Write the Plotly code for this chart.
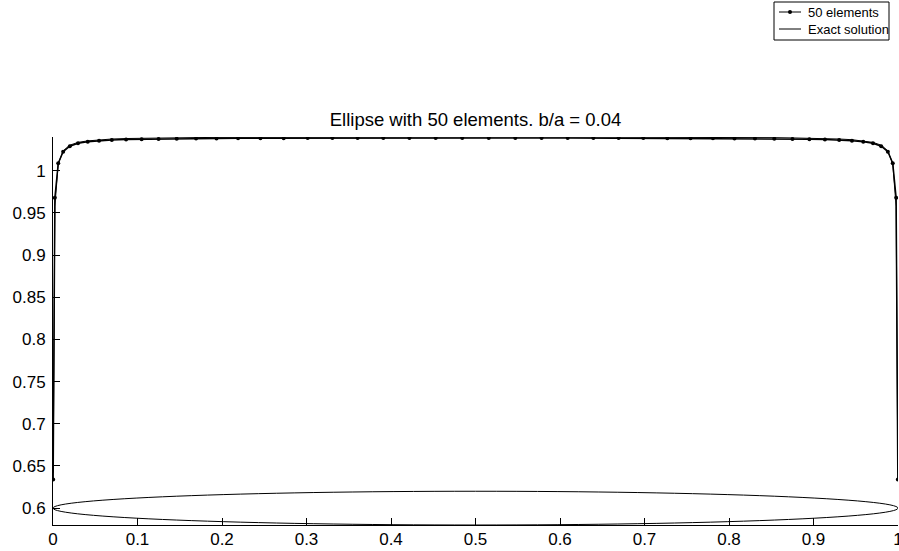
import plotly.graph_objects as go

# Collocation points on the upper half of the ellipse (x / chord length)
x_half = [0.0002, 0.0022, 0.0062, 0.0120, 0.0199, 0.0296, 0.0411, 0.0545,
          0.0696, 0.0865, 0.1049, 0.1249, 0.1464, 0.1693, 0.1935, 0.2190,
          0.2455, 0.2730, 0.3014, 0.3306, 0.3605, 0.3909, 0.4218, 0.4529,
          0.4843]
x_pts = x_half + [round(1 - v, 4) for v in reversed(x_half)]

# Surface velocity from the 50-element panel solution (left half)
u_num_half = [0.634, 0.968, 1.009, 1.0225, 1.029, 1.0325, 1.0345, 1.0356,
              1.0364, 1.0369, 1.0373, 1.0376, 1.0379, 1.0381, 1.0383, 1.0384,
              1.0385, 1.0386, 1.0387, 1.0388, 1.0388, 1.0389, 1.0389, 1.0389,
              1.0389]
u_num = u_num_half + list(reversed(u_num_half))

# Analytic surface velocity at the same points (left half)
u_exact_half = [0.642, 0.958, 1.008, 1.0236, 1.0303, 1.0336, 1.0354, 1.0368,
                1.0376, 1.0382, 1.0386, 1.0389, 1.0392, 1.0393, 1.0395, 1.0396,
                1.0397, 1.0398, 1.0398, 1.0399, 1.0399, 1.04, 1.04, 1.04, 1.04]
u_exact = u_exact_half + list(reversed(u_exact_half))

series_names = ["50 elements", "Exact solution"]

# Body outline drawn under the curves
ellipse_cx, ellipse_cy = 0.5, 0.6
ellipse_a = 0.5
ellipse_ratio = 0.04
ellipse_b = ellipse_a * ellipse_ratio

x_ticks = [0, 0.1, 0.2, 0.3, 0.4, 0.5, 0.6, 0.7, 0.8, 0.9, 1]
x_labels = ["0", "0.1", "0.2", "0.3", "0.4", "0.5", "0.6", "0.7", "0.8", "0.9", "1"]
y_ticks = [0.6, 0.65, 0.7, 0.75, 0.8, 0.85, 0.9, 0.95, 1]
y_labels = ["0.6", "0.65", "0.7", "0.75", "0.8", "0.85", "0.9", "0.95", "1"]

FONT = "Liberation Sans, Arial, Helvetica, sans-serif"
W, H = 899, 551
M_L, M_R, M_T, M_B = 53, 1, 137, 26
PLOT_W = W - M_L - M_R
PLOT_H = H - M_T - M_B


def px(xp):
    """Horizontal pixel position -> paper coordinate."""
    return (xp - M_L) / PLOT_W


def py(yp):
    """Vertical pixel position (from top) -> paper coordinate."""
    return (H - M_B - yp) / PLOT_H


fig = go.Figure()
fig.add_trace(go.Scatter(
    x=x_pts, y=u_num, mode="lines+markers", name=series_names[0],
    line=dict(color="black", width=1.5),
    marker=dict(color="black", size=4),
    showlegend=False,
))
fig.add_trace(go.Scatter(
    x=x_pts, y=u_exact, mode="lines", name=series_names[1],
    line=dict(color="black", width=1),
    showlegend=False,
))

fig.add_shape(
    type="circle", xref="x", yref="y",
    x0=ellipse_cx - ellipse_a, x1=ellipse_cx + ellipse_a,
    y0=ellipse_cy - ellipse_b, y1=ellipse_cy + ellipse_b,
    line=dict(color="black", width=1), layer="above",
)

# Boxed legend in the top-right corner
fig.add_shape(type="rect", xref="paper", yref="paper",
              x0=px(774), x1=px(889), y0=py(40), y1=py(2),
              line=dict(color="black", width=1), fillcolor="white")
for i, name in enumerate(series_names):
    row_y = 12 + 17 * i
    fig.add_shape(type="line", xref="paper", yref="paper",
                  x0=px(779), x1=px(801), y0=py(row_y), y1=py(row_y),
                  line=dict(color="black", width=1))
    if i == 0:
        fig.add_shape(type="circle", xref="paper", yref="paper",
                      x0=px(788), x1=px(792), y0=py(row_y + 2), y1=py(row_y - 2),
                      line=dict(color="black", width=0), fillcolor="black")
    fig.add_annotation(x=px(806), y=py(row_y), xref="paper", yref="paper",
                       text=name, showarrow=False, xanchor="left", yanchor="middle",
                       font=dict(family=FONT, size=13, color="black"))

axis_common = dict(
    showline=True, linecolor="black", linewidth=1, mirror=False,
    showgrid=False, zeroline=False, automargin=False,
    ticks="inside", ticklen=7, tickwidth=1, tickcolor="black",
    tickfont=dict(family=FONT, size=17, color="black"),
    ticklabeloverflow="allow",
)

fig.update_xaxes(range=[0, 1], tickvals=x_ticks, ticktext=x_labels,
                 ticklabelstandoff=-1, **axis_common)
fig.update_yaxes(range=[0.58, 1.04], tickvals=y_ticks, ticktext=y_labels,
                 ticklabelstandoff=3, **axis_common)

fig.update_layout(
    width=W, height=H,
    margin=dict(l=M_L, r=M_R, t=M_T, b=M_B, autoexpand=False),
    paper_bgcolor="white", plot_bgcolor="white",
    font=dict(family=FONT, color="black"),
    title=dict(text="Ellipse with 50 elements. b/a = 0.04",
               x=0.5, xref="paper", xanchor="center",
               y=1, yref="paper", yanchor="bottom",
               pad=dict(b=11), font=dict(family=FONT, size=18.5, color="black")),
    showlegend=False,
)

fig.write_html("out.html")
